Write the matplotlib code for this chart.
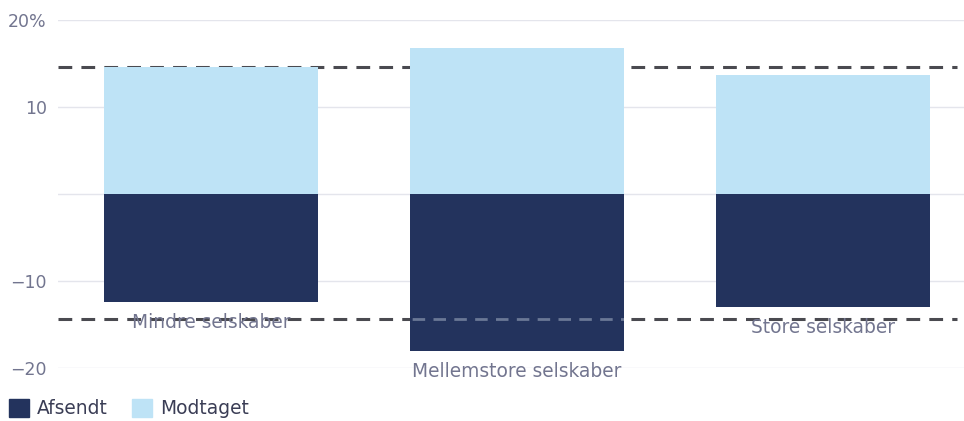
import matplotlib.pyplot as plt
from matplotlib.patches import Patch

# Data
kategorier = ["Mindre selskaber", "Mellemstore selskaber", "Store selskaber"]
modtaget = [14.6, 16.8, 13.7]
afsendt = [-12.4, -18.0, -13.0]
gns_modtaget = 14.6
gns_afsendt = -14.4
yticks = [-20, -10, 0, 10, 20]
ytick_labels = ["\u221220", "\u221210", "", "10", "20%"]

navy = "#23335d"
lysblaa = "#bee3f6"
tekstfarve = "#72758f"

plt.rcParams["font.family"] = ["DejaVu Sans"]

fig = plt.figure(figsize=(9.64, 4.21), dpi=100)
ax = fig.add_axes([0.06, 0.126, 0.94, 0.8265])

x = range(len(kategorier))
ax.set_ylim(-20, 20)
ax.set_xlim(-0.5, 2.46)

# gridlines
for t in yticks:
    ax.axhline(t, color="#e4e5ec", lw=1, zorder=0)

# average lines behind the bars
ax.axhline(gns_modtaget, xmin=0, xmax=0.992, color="#4a4a50", lw=2.2,
           ls=(0, (4.5, 3)), zorder=1)
ax.axhline(gns_afsendt, xmin=0, xmax=0.992, color="#4a4a50", lw=2.2,
           ls=(0, (4.5, 3)), zorder=1)

ax.bar(x, modtaget, width=0.70, color=lysblaa, zorder=2)
neg = ax.bar(x, afsendt, width=0.70, color=navy, zorder=2)

# faint dashes visible through the dark bars
for b in neg:
    ln = ax.axhline(gns_afsendt, color="#6a7896", lw=2.0,
                    ls=(0, (4.5, 3)), zorder=3)
    ln.set_clip_path(b)

# category labels under each bar
for i, (navn, v) in enumerate(zip(kategorier, afsendt)):
    ax.annotate(navn, (i, v), xytext=(0, -15), textcoords="offset points",
                ha="center", va="center", fontsize=13.4, color=tekstfarve,
                zorder=4)

ax.set_yticks(yticks)
ax.set_yticklabels(ytick_labels, fontsize=12.5, color=tekstfarve)
ax.tick_params(axis="y", length=0, pad=8)
ax.set_xticks([])
for s in ax.spines.values():
    s.set_visible(False)

handles = [Patch(color=navy, label="Afsendt"), Patch(color=lysblaa, label="Modtaget")]
fig.legend(handles=handles, loc="lower left", bbox_to_anchor=(-0.002, -0.02),
           ncol=2, frameon=False, fontsize=13.4, handlelength=1.05, handleheight=1.05,
           handletextpad=0.45, columnspacing=1.3, borderaxespad=0.2,
           labelcolor="#3a3d55")

fig.savefig("out.png", dpi=100)
